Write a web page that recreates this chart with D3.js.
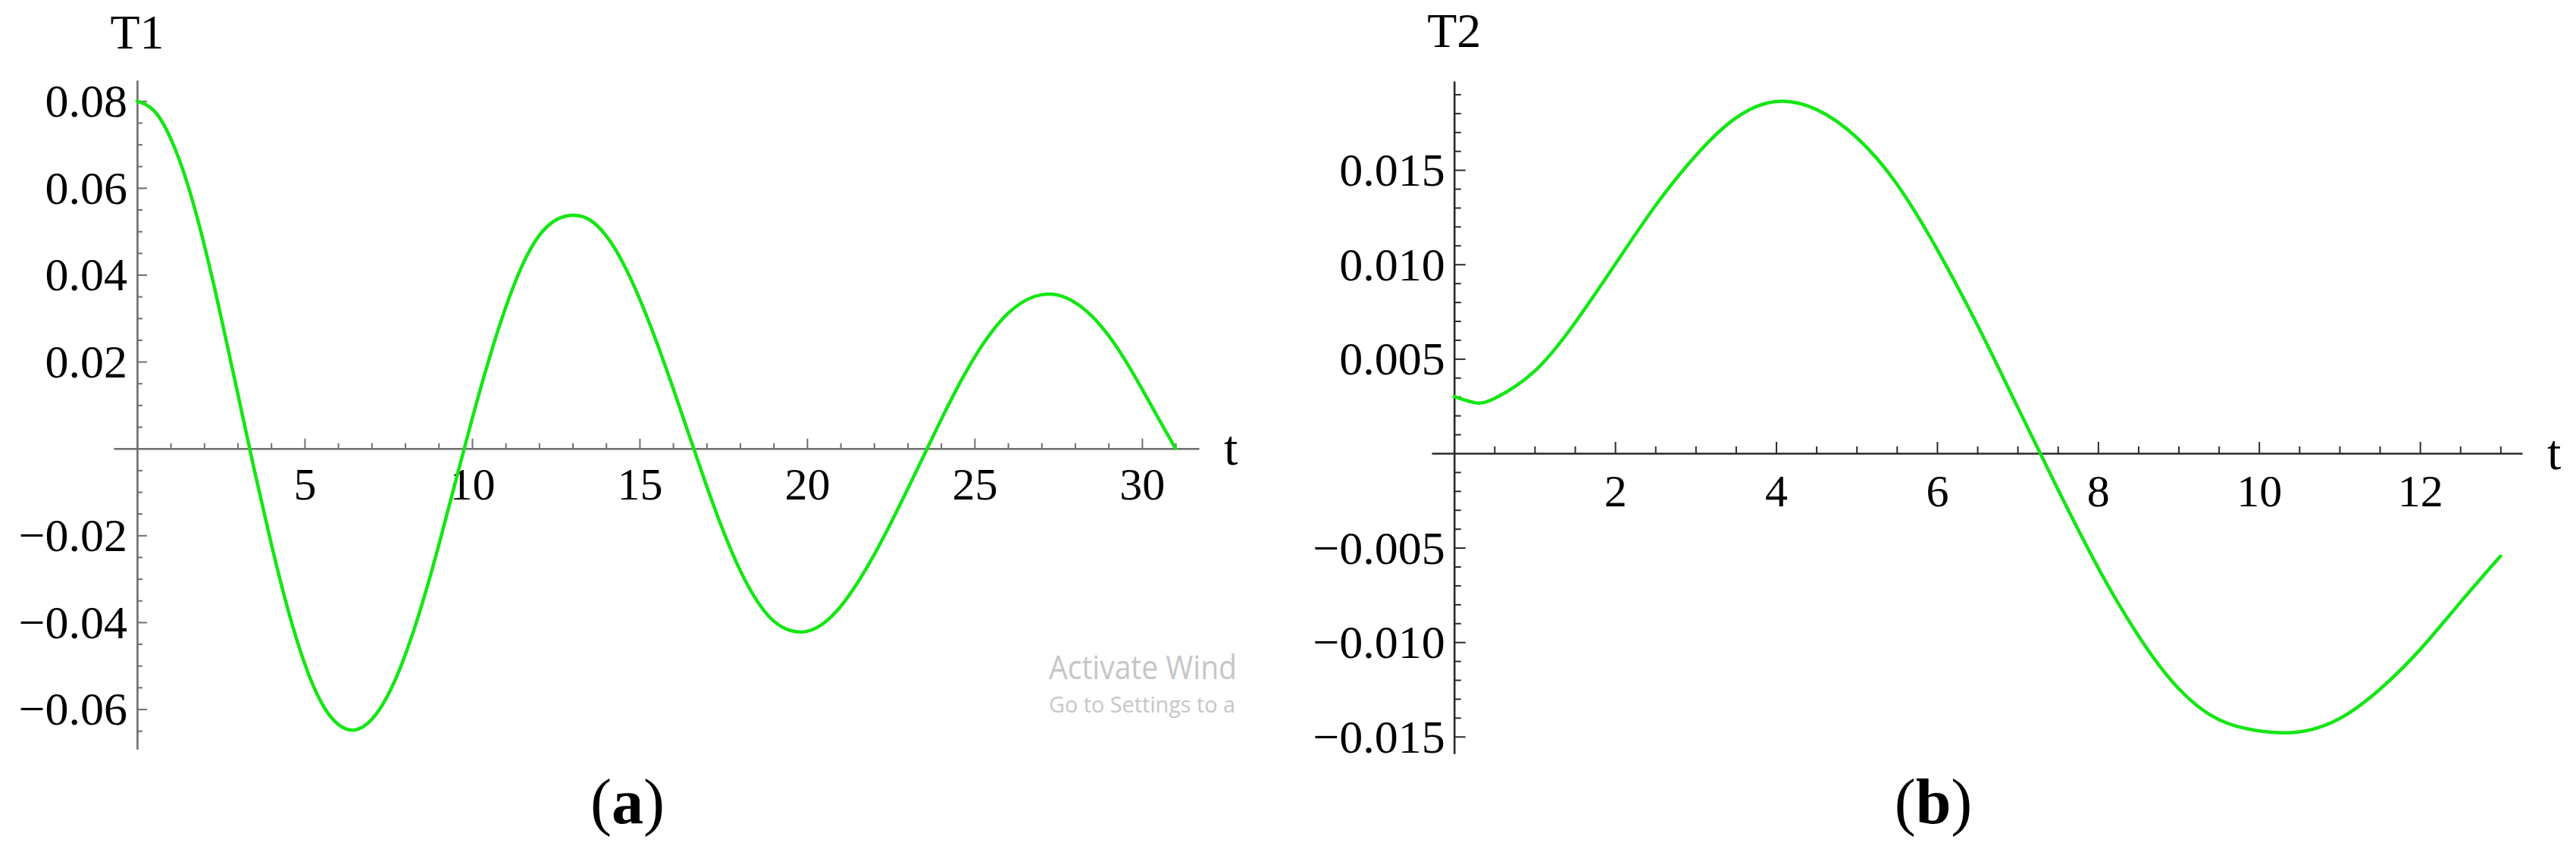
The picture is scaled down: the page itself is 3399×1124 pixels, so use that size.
<!DOCTYPE html>
<html>
<head>
<meta charset="utf-8">
<script src="https://cdn.jsdelivr.net/npm/d3@7"></script>
<style>
  html, body { margin: 0; padding: 0; background: #ffffff; }
  svg { display: block; }
</style>
</head>
<body>
<svg id="chart" width="3399" height="1124"></svg>
<script>
// ---------------- DATA ----------------
// Panel (a): T1(t), every 0.5
const tA = [0, 0.5, 1, 1.5, 2, 2.5, 3, 3.5, 4, 4.5, 5, 5.5, 6, 6.5, 7, 7.5, 8, 8.5, 9, 9.5, 10,
  10.5, 11, 11.5, 12, 12.5, 13, 13.5, 14, 14.5, 15, 15.5, 16, 16.5, 17, 17.5, 18, 18.5, 19, 19.5, 20,
  20.5, 21, 21.5, 22, 22.5, 23, 23.5, 24, 24.5, 25, 25.5, 26, 26.5, 27, 27.5, 28, 28.5, 29, 29.5, 30, 30.5, 31];
const T1 = [0.0800, 0.0778, 0.0714, 0.0610, 0.0470, 0.0305, 0.0128, -0.0050, -0.0218, -0.0370, -0.0495,
  -0.0585, -0.0635, -0.0648, -0.0624, -0.0566, -0.0476, -0.0360, -0.0224, -0.0078, 0.0068,
  0.0204, 0.0324, 0.0422, 0.0490, 0.0526, 0.0537, 0.0527, 0.0490, 0.0428, 0.0345, 0.0247, 0.0139, 0.0026,
  -0.0086, -0.0190, -0.0280, -0.0350, -0.0397, -0.0419, -0.0421,
  -0.0402, -0.0364, -0.0310, -0.0245, -0.0172, -0.0094, -0.0014, 0.0066, 0.0142, 0.0210, 0.0267, 0.0311,
  0.0340, 0.0354, 0.0353, 0.0336, 0.0305, 0.0260, 0.0203, 0.0137, 0.0068, 0.0000];

// Panel (b): T2(t)
const tB = [0, 0.25, 0.5, 1, 1.5, 2, 2.5, 3, 3.5, 4, 4.5, 5, 5.5, 6, 6.5, 7, 7.5, 8, 8.5, 9, 9.5,
  10, 10.5, 11, 11.5, 12, 12.5, 13];
const T2 = [0.00300, 0.00268, 0.00290, 0.00435, 0.00690, 0.01000, 0.01310, 0.01575, 0.01775, 0.01862,
  0.01820, 0.01672, 0.01425, 0.01080, 0.00680, 0.00245, -0.00190, -0.00605, -0.00965, -0.01245, -0.01410,
  -0.01470, -0.01475, -0.01405, -0.01250, -0.01040, -0.00790, -0.00545];

// Tick labels
const aXTicks = [5, 10, 15, 20, 25, 30];
const aYTicks = [-0.06, -0.04, -0.02, 0.02, 0.04, 0.06, 0.08];
const bXTicks = [2, 4, 6, 8, 10, 12];
const bYTicks = [-0.015, -0.010, -0.005, 0.005, 0.010, 0.015];

const panelLabels = ["a", "b"];
const yTitles = ["T1", "T2"];
const xTitle = "t";
const watermark = ["Activate Wind", "Go to Settings to a"];

// ---------------- DRAW ----------------
const svg = d3.select("#chart");
svg.append("rect").attr("width", 3399).attr("height", 1124).attr("fill", "#fff");

const SERIF = "'Liberation Serif', 'Times New Roman', serif";
const GREEN = "#14e614";

function panel(cfg) {
  const x = d3.scaleLinear().domain(cfg.xDomain).range(cfg.xRange);
  const y = d3.scaleLinear().domain(cfg.yDomain).range(cfg.yRange);
  const g = svg.append("g");
  const x0 = x(0), y0 = y(0);

  // minor ticks (x)
  const xMinor = d3.range(1, Math.floor(cfg.xDomain[1] / cfg.xMinorStep) + 1)
    .map(i => +(i * cfg.xMinorStep).toFixed(6))
    .filter(v => !cfg.xTicks.some(m => Math.abs(m - v) < 1e-9));
  g.append("g").attr("transform", `translate(0,${y0})`)
    .call(d3.axisBottom(x).tickValues(xMinor).tickSize(-cfg.minorLen).tickFormat(""))
    .call(s => s.select(".domain").remove());

  // major x axis
  const gx = g.append("g").attr("transform", `translate(0,${y0})`)
    .call(d3.axisBottom(x).tickValues(cfg.xTicks).tickSizeInner(-cfg.majorLen).tickSizeOuter(0)
      .tickPadding(cfg.xPad).tickFormat(d3.format("d")));

  // minor ticks (y)
  const yStep = cfg.yMinorStep;
  const yMinor = d3.range(Math.ceil(cfg.yDomain[0] / yStep), Math.floor(cfg.yDomain[1] / yStep) + 1)
    .map(i => +(i * yStep).toFixed(6))
    .filter(v => Math.abs(v) > 1e-9 && !cfg.yTicks.some(m => Math.abs(m - v) < 1e-9));
  g.append("g").attr("transform", `translate(${x0},0)`)
    .call(d3.axisLeft(y).tickValues(yMinor).tickSize(-cfg.minorLen).tickFormat(""))
    .call(s => s.select(".domain").remove());

  // major y axis
  const gy = g.append("g").attr("transform", `translate(${x0},0)`)
    .call(d3.axisLeft(y).tickValues(cfg.yTicks).tickSizeInner(-cfg.majorLen).tickSizeOuter(0)
      .tickPadding(cfg.yPad).tickFormat(d3.format(cfg.yFmt)));

  g.selectAll(".domain").attr("stroke", cfg.axisColor).attr("stroke-width", 2.6);
  g.selectAll(".tick line").attr("stroke", cfg.axisColor).attr("stroke-width", 2);
  gx.selectAll("text").attr("font-family", SERIF).attr("font-size", 60).attr("fill", "#000");
  gy.selectAll("text").attr("font-family", SERIF).attr("font-size", 62).attr("fill", "#000")
    .attr("dy", "0.33em");

  // curve
  const line = d3.line().x((d, i) => x(cfg.t[i])).y(d => y(d)).curve(d3.curveNatural);
  g.append("path").datum(cfg.v).attr("d", line)
    .attr("fill", "none").attr("stroke", GREEN).attr("stroke-width", 4.5)
    .attr("stroke-linejoin", "round").attr("stroke-linecap", "round");

  // axis titles
  g.append("text").attr("x", x0).attr("y", cfg.yTitleY).attr("text-anchor", "middle")
    .attr("font-family", SERIF).attr("font-size", 64).attr("fill", "#000").text(cfg.yTitle);
  g.append("text").attr("x", cfg.xRange[1] + 33).attr("y", y0 + 21)
    .attr("font-family", SERIF).attr("font-size", 66).attr("fill", "#000").text(xTitle);

  // panel label
  const lab = g.append("text").attr("x", cfg.labelX).attr("y", 1086).attr("text-anchor", "middle")
    .attr("font-family", SERIF).attr("font-size", 84).attr("fill", "#000");
  lab.append("tspan").text("(");
  lab.append("tspan").attr("font-weight", "bold").text(cfg.label);
  lab.append("tspan").text(")");
  return { x, y, g };
}

panel({
  t: tA, v: T1,
  xDomain: [-0.7, 31.7], xRange: [150, 1582],
  yDomain: [-0.0692, 0.0848], yRange: [988.2, 105.8],
  xTicks: aXTicks, yTicks: aYTicks, xMinorStep: 1, yMinorStep: 0.005,
  majorLen: 13, minorLen: 7, xPad: 25, yPad: 13, yFmt: ".2f",
  axisColor: "#6e6e6e", yTitle: yTitles[0], yTitleY: 64,
  label: panelLabels[0], labelX: 828
});

panel({
  t: tB, v: T2,
  xDomain: [-0.28, 13.27], xRange: [1889, 3328],
  yDomain: [-0.0159, 0.0197], yRange: [994.2, 107],
  xTicks: bXTicks, yTicks: bYTicks, xMinorStep: 0.5, yMinorStep: 0.001,
  majorLen: 15, minorLen: 9, xPad: 27, yPad: 12, yFmt: ".3f",
  axisColor: "#2a2a2a", yTitle: yTitles[1], yTitleY: 62,
  label: panelLabels[1], labelX: 2551
});

// watermark text present in the reference picture
svg.append("text").attr("x", 1384).attr("y", 896)
  .attr("font-family", "'Open Sans', 'Noto Sans', sans-serif").attr("font-size", 44)
  .attr("fill", "#c6c6c6").attr("textLength", 248).attr("lengthAdjust", "spacingAndGlyphs")
  .text(watermark[0]);
svg.append("text").attr("x", 1384).attr("y", 940)
  .attr("font-family", "'Open Sans', 'Noto Sans', sans-serif").attr("font-size", 30)
  .attr("fill", "#c6c6c6").attr("textLength", 246).attr("lengthAdjust", "spacingAndGlyphs")
  .text(watermark[1]);
</script>
</body>
</html>
